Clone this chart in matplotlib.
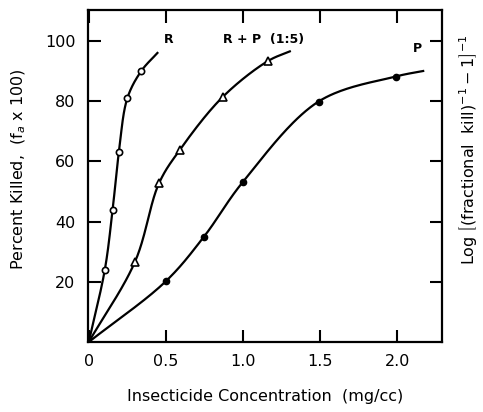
import numpy as np
import matplotlib
matplotlib.use("Agg")
import matplotlib.pyplot as plt

# Data (mg/cc, percent killed)
r_x = [0.104, 0.154, 0.195, 0.25, 0.34]
r_y = [24, 43.7, 63, 81, 90]
rp_x = [0.30, 0.455, 0.59, 0.868, 1.16]
rp_y = [26.7, 52.7, 63.8, 81.4, 93.3]
p_x = [0.498, 0.747, 0.998, 1.49, 1.99]
p_y = [20.1, 35, 53.1, 79.9, 88.2]

# fitted-curve knots (origin + points + curve end as drawn)
r_curve_x = [0.0] + r_x + [0.45]
r_curve_y = [0.0] + r_y + [96.3]
rp_curve_x = [0.0] + rp_x + [1.31]
rp_curve_y = [0.0] + rp_y + [96.7]
p_curve_x = [0.0] + p_x + [2.175]
p_curve_y = [0.0] + p_y + [90.1]

x_ticks = [0, 0.5, 1.0, 1.5, 2.0]
x_tick_labels = ["0", "0.5", "1.0", "1.5", "2.0"]
y_ticks = [20, 40, 60, 80, 100]
y_tick_labels = ["20", "40", "60", "80", "100"]


def catmull_rom(x, y, sx=154.0, sy=3.0, n=40, alpha=0.5):
    P = np.column_stack([np.asarray(x, float) * sx, np.asarray(y, float) * sy])
    P = np.vstack([2 * P[0] - P[1], P, 2 * P[-1] - P[-2]])
    out = []
    for i in range(len(P) - 3):
        p0, p1, p2, p3 = P[i], P[i + 1], P[i + 2], P[i + 3]
        t0 = 0.0
        t1 = t0 + np.linalg.norm(p1 - p0) ** alpha
        t2 = t1 + np.linalg.norm(p2 - p1) ** alpha
        t3 = t2 + np.linalg.norm(p3 - p2) ** alpha
        t = np.linspace(t1, t2, n)[:, None]
        a1 = (t1 - t) / (t1 - t0) * p0 + (t - t0) / (t1 - t0) * p1
        a2 = (t2 - t) / (t2 - t1) * p1 + (t - t1) / (t2 - t1) * p2
        a3 = (t3 - t) / (t3 - t2) * p2 + (t - t2) / (t3 - t2) * p3
        b1 = (t2 - t) / (t2 - t0) * a1 + (t - t0) / (t2 - t0) * a2
        b2 = (t3 - t) / (t3 - t1) * a2 + (t - t1) / (t3 - t1) * a3
        c = (t2 - t) / (t2 - t1) * b1 + (t - t1) / (t2 - t1) * b2
        out.append(c)
    C = np.vstack(out)
    return C[:, 0] / sx, C[:, 1] / sy


fig = plt.figure(figsize=(4.83, 4.12), dpi=100)
ax = fig.add_axes([88 / 483, 1 - 342 / 412, (442 - 88) / 483, (342 - 10) / 412])

for cx, cy in [(r_curve_x, r_curve_y), (rp_curve_x, rp_curve_y), (p_curve_x, p_curve_y)]:
    xs, ys = catmull_rom(cx, cy)
    ax.plot(xs, ys, color="black", lw=1.6, solid_capstyle="butt")

ax.plot(r_x, r_y, "o", ms=4.5, mfc="white", mec="black", mew=1.2)
ax.plot(rp_x, rp_y, "^", ms=6, mfc="white", mec="black", mew=1.2)
ax.plot(p_x, p_y, "o", ms=4.5, mfc="black", mec="black", mew=1.0)

ax.set_xlim(-0.005, 2.29)
ax.set_ylim(0, 110.3)
ax.set_xticks(x_ticks)
ax.set_xticklabels(x_tick_labels)
ax.set_yticks(y_ticks)
ax.set_yticklabels(y_tick_labels)
ax.tick_params(direction="in", length=9, width=1.5, top=True, right=True,
               labelsize=11.5, pad=9)
for s in ax.spines.values():
    s.set_linewidth(1.6)

ax.text(0.52, 100.5, "R", fontsize=9, fontweight="bold", ha="center", va="center")
ax.text(1.13, 100.5, "R + P  (1:5)", fontsize=9, fontweight="bold", ha="center", va="center")
ax.text(2.13, 97.5, "P", fontsize=9, fontweight="bold", ha="center", va="center")

ax.set_xlabel("Insecticide Concentration  (mg/cc)", fontsize=11.5, labelpad=14)
ax.set_ylabel("Percent Killed,  (f$_a$ x 100)", fontsize=11.5, labelpad=10)
ax.yaxis.set_label_coords(-0.17, 0.52)

fig.text(468 / 483, 1 - 150 / 412,
         r"Log $\left[(\mathrm{fractional\ \ kill})^{-1} - 1\right]^{-1}$",
         rotation=90, ha="center", va="center", fontsize=11.5)

fig.savefig("out.png", dpi=100)
